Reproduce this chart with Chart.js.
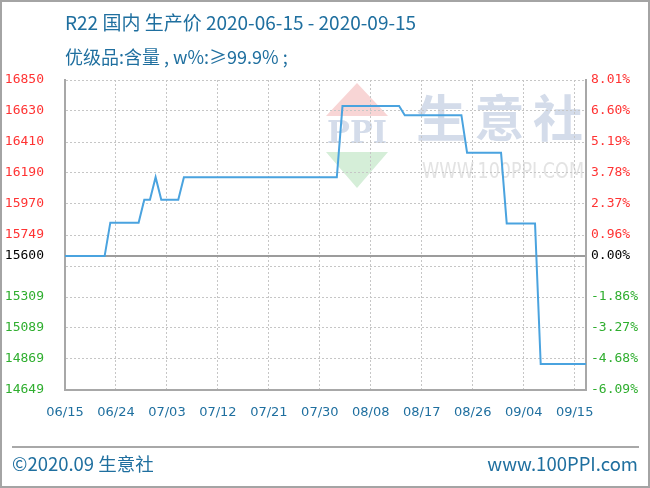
<!DOCTYPE html>
<html>
<head>
<meta charset="utf-8">
<script src="https://cdn.jsdelivr.net/npm/chart.js@4/dist/chart.umd.min.js"></script>
<style>
  body { margin: 0; background: #fff; }
  #wrap { position: relative; width: 650px; height: 488px; overflow: hidden; background: #fff; }
  #frame { position: absolute; left: 0; top: 0; width: 650px; height: 488px; box-sizing: border-box; border: 2px solid #a4a4a4; pointer-events: none; }
  canvas { position: absolute; left: 0; top: 0; }
  .txt { position: absolute; color: #1f6f9f; font-family: "Noto Sans CJK SC", sans-serif; white-space: nowrap; line-height: 1; }
  #rule { position: absolute; left: 12px; top: 446px; width: 627px; height: 2px; background: #a8a8a8; }
</style>
</head>
<body>
<div id="wrap">
  <canvas id="priceChart" width="650" height="488"></canvas>
  <div class="txt" style="left:65px; top:12px; font-size:19px;">R22 国内 生产价 2020-06-15 - 2020-09-15</div>
  <div class="txt" style="left:65px; top:47px; font-size:18px;">优级品:含量 , w%:≥99.9% ;</div>
  <div id="rule"></div>
  <div class="txt" style="left:12px; top:454px; font-size:18.5px;">©2020.09 生意社</div>
  <div class="txt" style="right:12px; top:454px; font-size:18.5px;">www.100PPI.com</div>
  <div id="frame"></div>
</div>
<script>
// daily price, 2020-06-15 .. 2020-09-15
const prices = [
  15600, 15600, 15600, 15600, 15600, 15600, 15600, 15600,
  15837, 15837, 15837, 15837, 15837, 15837,
  16000, 16000, 16160, 16000, 16000, 16000, 16000,
  16160, 16160, 16160, 16160, 16160, 16160, 16160, 16160, 16160, 16160,
  16160, 16160, 16160, 16160, 16160, 16160, 16160, 16160, 16160, 16160,
  16160, 16160, 16160, 16160, 16160, 16160, 16160, 16160,
  16665, 16665, 16665, 16665, 16665, 16665, 16665, 16665, 16665, 16665, 16665,
  16600, 16600, 16600, 16600, 16600, 16600, 16600, 16600, 16600, 16600, 16600,
  16334, 16334, 16334, 16334, 16334, 16334, 16334,
  15832, 15832, 15832, 15832, 15832, 15832,
  14833, 14833, 14833, 14833, 14833, 14833, 14833, 14833, 14833
];
const basePrice = 15600;

const xTickDays = [0, 9, 18, 27, 36, 45, 54, 63, 72, 81, 90];
const xTickLabels = ["06/15", "06/24", "07/03", "07/12", "07/21", "07/30", "08/08", "08/17", "08/26", "09/04", "09/15"];

const yTickValues = [14649, 14869.1, 15089.2, 15309.3, 15529.4, 15600, 15749.5, 15969.6, 16189.7, 16409.8, 16629.9, 16850];
const yTickLabels = ["14649", "14869", "15089", "15309", "", "15600", "15749", "15970", "16190", "16410", "16630", "16850"];
const pctTickLabels = ["-6.09%", "-4.68%", "-3.27%", "-1.86%", "", "0.00%", "0.96%", "2.37%", "3.78%", "5.19%", "6.60%", "8.01%"];

const labelColor = (v) => (v > basePrice ? "#ff3333" : v < basePrice ? "#2fae2f" : "#000000");
const gridColor = "#c6c6c6";
const axisColor = "#a8a8a8";

const watermark = {
  id: "watermark",
  beforeDraw(chart) {
    const { ctx, chartArea: a } = chart;
    const cx = a.left + 292;
    ctx.save();
    ctx.fillStyle = "#f8d5d5";
    ctx.beginPath();
    ctx.moveTo(cx, a.top + 3);
    ctx.lineTo(cx + 31, a.top + 36);
    ctx.lineTo(cx - 31, a.top + 36);
    ctx.fill();
    ctx.fillStyle = "#d5eed8";
    ctx.beginPath();
    ctx.moveTo(cx - 31, a.top + 72);
    ctx.lineTo(cx + 31, a.top + 72);
    ctx.lineTo(cx, a.top + 108);
    ctx.fill();
    ctx.fillStyle = "#d4dcea";
    ctx.textAlign = "center";
    ctx.textBaseline = "middle";
    ctx.font = 'bold 32px "DejaVu Serif"';
    ctx.fillText("PPI", cx, a.top + 55, 60);
    ctx.font = 'bold 50px "Noto Sans CJK SC"';
    ["生", "意", "社"].forEach((ch, i) => ctx.fillText(ch, a.left + 376 + i * 58.5, a.top + 38));
    ctx.fillStyle = "#e3e3e3";
    ctx.textAlign = "left";
    ctx.font = '22px "DejaVu Sans"';
    ctx.fillText("WWW.100PPI.COM", a.left + 357, a.top + 92, 162);
    ctx.restore();
  }
};

new Chart("priceChart", {
  type: "line",
  data: {
    datasets: [
      {
        data: prices.map((p, i) => ({ x: i, y: p })),
        borderColor: "#4aa3df",
        borderWidth: 2,
        pointRadius: 0,
        fill: false,
        tension: 0,
        yAxisID: "y",
      },
    ],
  },
  options: {
    responsive: false,
    animation: false,
    layout: { padding: { top: 80, bottom: 68, left: 0, right: 0 } },
    plugins: { legend: { display: false }, tooltip: { enabled: false } },
    scales: {
      x: {
        type: "linear",
        min: 0,
        max: prices.length - 1,
        afterBuildTicks: (s) => { s.ticks = xTickDays.map((v) => ({ value: v })); },
        afterFit: (s) => { s.height = 30; },
        ticks: {
          callback: (v, i) => xTickLabels[i],
          color: "#1f6f9f",
          font: { family: "DejaVu Sans", size: 13 },
          padding: 15,
          maxRotation: 0,
          autoSkip: false,
        },
        grid: { color: gridColor, lineWidth: 1, drawTicks: false },
        border: { color: axisColor, width: 2, dash: [2, 2] },
      },
      y: {
        position: "left",
        min: yTickValues[0],
        max: yTickValues[yTickValues.length - 1],
        afterBuildTicks: (s) => { s.ticks = yTickValues.map((v) => ({ value: v })); },
        afterFit: (s) => { s.width = 65; },
        ticks: {
          callback: (v, i) => yTickLabels[i],
          color: (c) => labelColor(c.tick.value),
          font: { family: "DejaVu Sans Mono", size: 13 },
          padding: 21,
        },
        grid: {
          color: (c) => (c.tick && c.tick.value === basePrice ? "#9c9c9c" : gridColor),
          lineWidth: (c) => (c.tick && c.tick.value === basePrice ? 2 : 1),
          drawTicks: false,
        },
        border: {
          color: axisColor,
          width: 2,
          dash: (c) => (c.tick && c.tick.value === basePrice ? [] : [2, 2]),
        },
      },
      y1: {
        position: "right",
        min: yTickValues[0],
        max: yTickValues[yTickValues.length - 1],
        afterBuildTicks: (s) => { s.ticks = yTickValues.map((v) => ({ value: v })); },
        afterFit: (s) => { s.width = 64; },
        ticks: {
          callback: (v, i) => pctTickLabels[i],
          color: (c) => labelColor(c.tick.value),
          font: { family: "DejaVu Sans Mono", size: 13 },
          padding: 5,
        },
        grid: { display: false, drawTicks: false },
        border: { color: axisColor, width: 2 },
      },
    },
  },
  plugins: [watermark],
});
</script>
</body>
</html>
